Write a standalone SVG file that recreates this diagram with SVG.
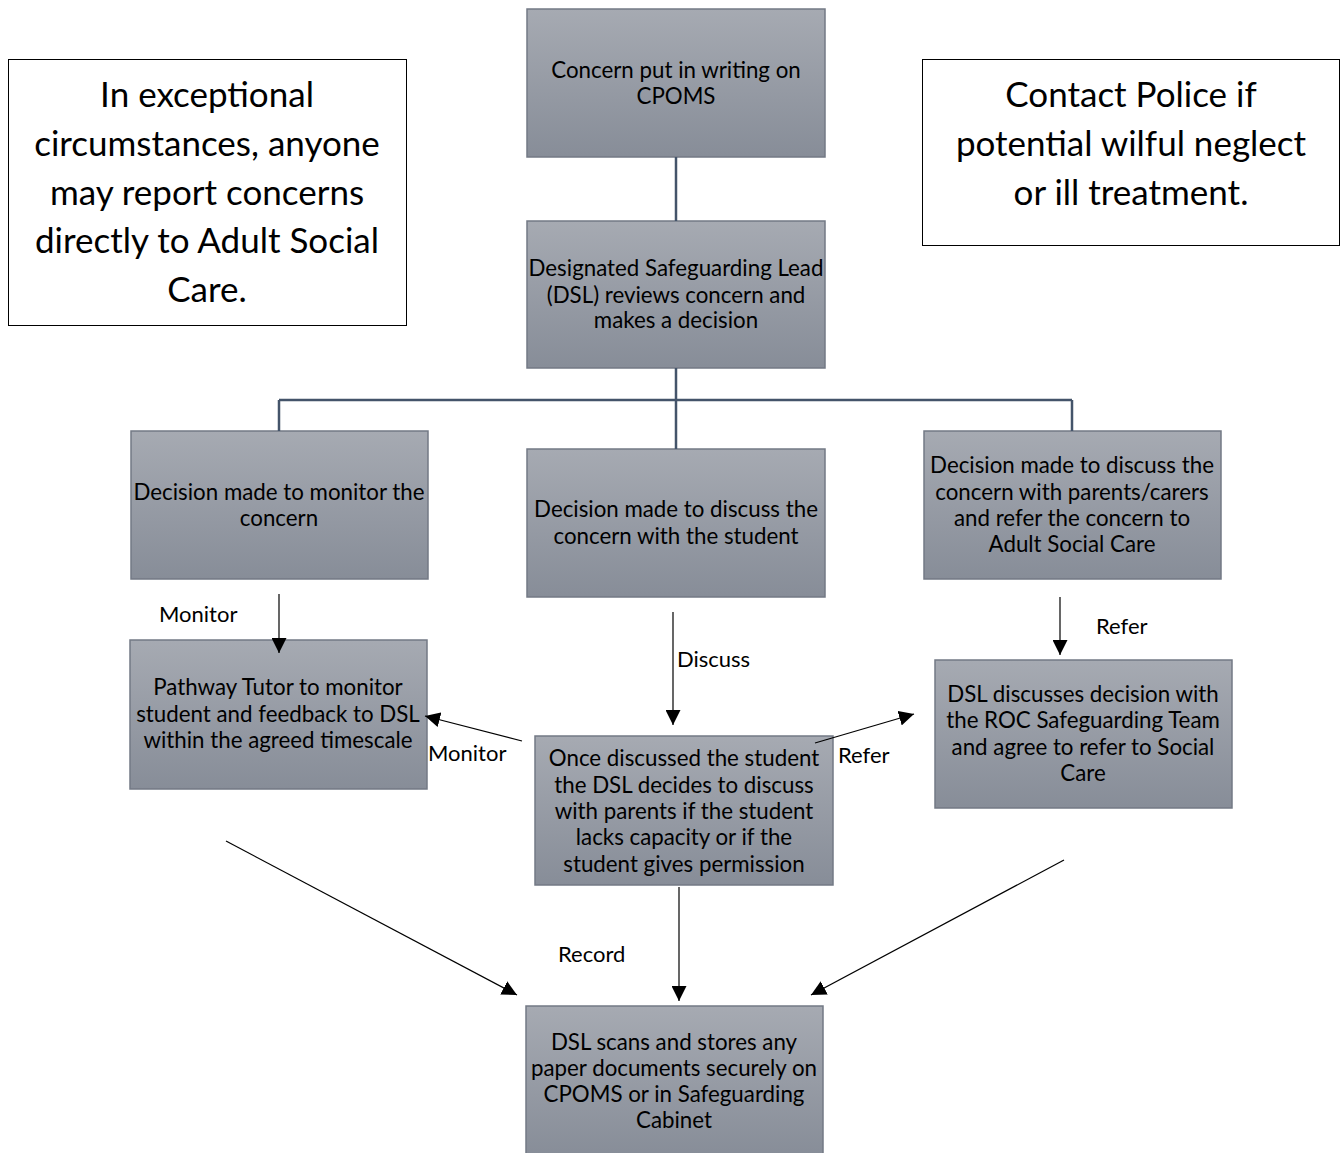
<svg xmlns="http://www.w3.org/2000/svg" width="1341" height="1153" viewBox="0 0 1341 1153">
<defs>
<linearGradient id="g" x1="0" y1="0" x2="0" y2="1">
<stop offset="0" stop-color="#a6aab2"/>
<stop offset="1" stop-color="#878d98"/>
</linearGradient>
<marker id="ah" viewBox="0 0 10 10" refX="10" refY="5" markerWidth="15" markerHeight="15" markerUnits="userSpaceOnUse" orient="auto">
<path d="M0,0 L10,5 L0,10 z" fill="#000"/>
</marker>
<style>
.box{fill:url(#g);stroke:#737985;stroke-width:1.5}
.note{fill:#fff;stroke:#000;stroke-width:1}
.t{font-family:Lato,"Liberation Sans",sans-serif;font-size:22.3px;fill:#000;text-anchor:middle}
.big{font-family:Lato,"Liberation Sans",sans-serif;font-size:35px;fill:#000;text-anchor:middle}
.lbl{font-family:Lato,"Liberation Sans",sans-serif;font-size:22px;fill:#000}
.tree{fill:none;stroke:#44546a;stroke-width:2.5}
.arr{fill:none;stroke:#000;stroke-width:1.2;marker-end:url(#ah)}
</style>
</defs>
<rect width="1341" height="1153" fill="#fff"/>

<g id="note-left">
<rect class="note" x="8.5" y="59.5" width="398" height="266"/>
<text class="big"><tspan x="207" y="107">In exceptional</tspan><tspan x="207" y="156">circumstances, anyone</tspan><tspan x="207" y="205">may report concerns</tspan><tspan x="207" y="253">directly to Adult Social</tspan><tspan x="207" y="302">Care.</tspan></text>
</g>

<g id="note-right">
<rect class="note" x="922.5" y="59.5" width="417" height="186"/>
<text class="big"><tspan x="1131" y="107">Contact Police if</tspan><tspan x="1131" y="156">potential wilful neglect</tspan><tspan x="1131" y="205">or ill treatment.</tspan></text>
</g>

<g id="n1">
<rect class="box" x="527" y="9" width="298" height="148"/>
<text class="t"><tspan x="676" y="78">Concern put in writing on</tspan><tspan x="676" y="104">CPOMS</tspan></text>
</g>

<g id="n2">
<rect class="box" x="527" y="221" width="298" height="147"/>
<text class="t"><tspan x="676" y="276">Designated Safeguarding Lead</tspan><tspan x="676" y="303">(DSL) reviews concern and</tspan><tspan x="676" y="328">makes a decision</tspan></text>
</g>

<g id="n3">
<rect class="box" x="131" y="431" width="297" height="148"/>
<text class="t"><tspan x="279" y="500">Decision made to monitor the</tspan><tspan x="279" y="526">concern</tspan></text>
</g>

<g id="n4">
<rect class="box" x="527" y="449" width="298" height="148"/>
<text class="t"><tspan x="676" y="517">Decision made to discuss the</tspan><tspan x="676" y="544">concern with the student</tspan></text>
</g>

<g id="n5">
<rect class="box" x="924" y="431" width="297" height="148"/>
<text class="t"><tspan x="1072" y="473">Decision made to discuss the</tspan><tspan x="1072" y="500">concern with parents/carers</tspan><tspan x="1072" y="526">and refer the concern to</tspan><tspan x="1072" y="552">Adult Social Care</tspan></text>
</g>

<g id="n6">
<rect class="box" x="130" y="640" width="297" height="149"/>
<text class="t"><tspan x="278" y="695">Pathway Tutor to monitor</tspan><tspan x="278" y="722">student and feedback to DSL</tspan><tspan x="278" y="748">within the agreed timescale</tspan></text>
</g>

<g id="n7">
<rect class="box" x="535" y="736" width="298" height="149"/>
<text class="t"><tspan x="684" y="766">Once discussed the student</tspan><tspan x="684" y="793">the DSL decides to discuss</tspan><tspan x="684" y="819">with parents if the student</tspan><tspan x="684" y="845">lacks capacity or if the</tspan><tspan x="684" y="872">student gives permission</tspan></text>
</g>

<g id="n8">
<rect class="box" x="935" y="660" width="297" height="148"/>
<text class="t"><tspan x="1083" y="702">DSL discusses decision with</tspan><tspan x="1083" y="728">the ROC Safeguarding Team</tspan><tspan x="1083" y="755">and agree to refer to Social</tspan><tspan x="1083" y="781">Care</tspan></text>
</g>

<g id="n9">
<rect class="box" x="526" y="1006" width="297" height="150"/>
<text class="t"><tspan x="674" y="1050">DSL scans and stores any</tspan><tspan x="674" y="1076">paper documents securely on</tspan><tspan x="674" y="1102">CPOMS or in Safeguarding</tspan><tspan x="674" y="1128">Cabinet</tspan></text>
</g>

<g id="connectors">
<path class="tree" d="M676,157 V221"/>
<path class="tree" d="M676,368 V400 M279,400 H1072 M279,400 V431 M676,400 V449 M1072,400 V431"/>
<path class="arr" d="M279,594 V653"/>
<path class="arr" d="M673,612 V725"/>
<path class="arr" d="M1060,597 V655"/>
<path class="arr" d="M522,741 L425,716"/>
<path class="arr" d="M815,743 L914,714"/>
<path class="arr" d="M226,841 L517,995"/>
<path class="arr" d="M679,887 V1001"/>
<path class="arr" d="M1064,860 L811,995"/>
<text class="lbl" x="159" y="622">Monitor</text>
<text class="lbl" x="677" y="667">Discuss</text>
<text class="lbl" x="1096" y="634">Refer</text>
<text class="lbl" x="428" y="761">Monitor</text>
<text class="lbl" x="838" y="763">Refer</text>
<text class="lbl" x="558" y="962">Record</text>
</g>
</svg>
